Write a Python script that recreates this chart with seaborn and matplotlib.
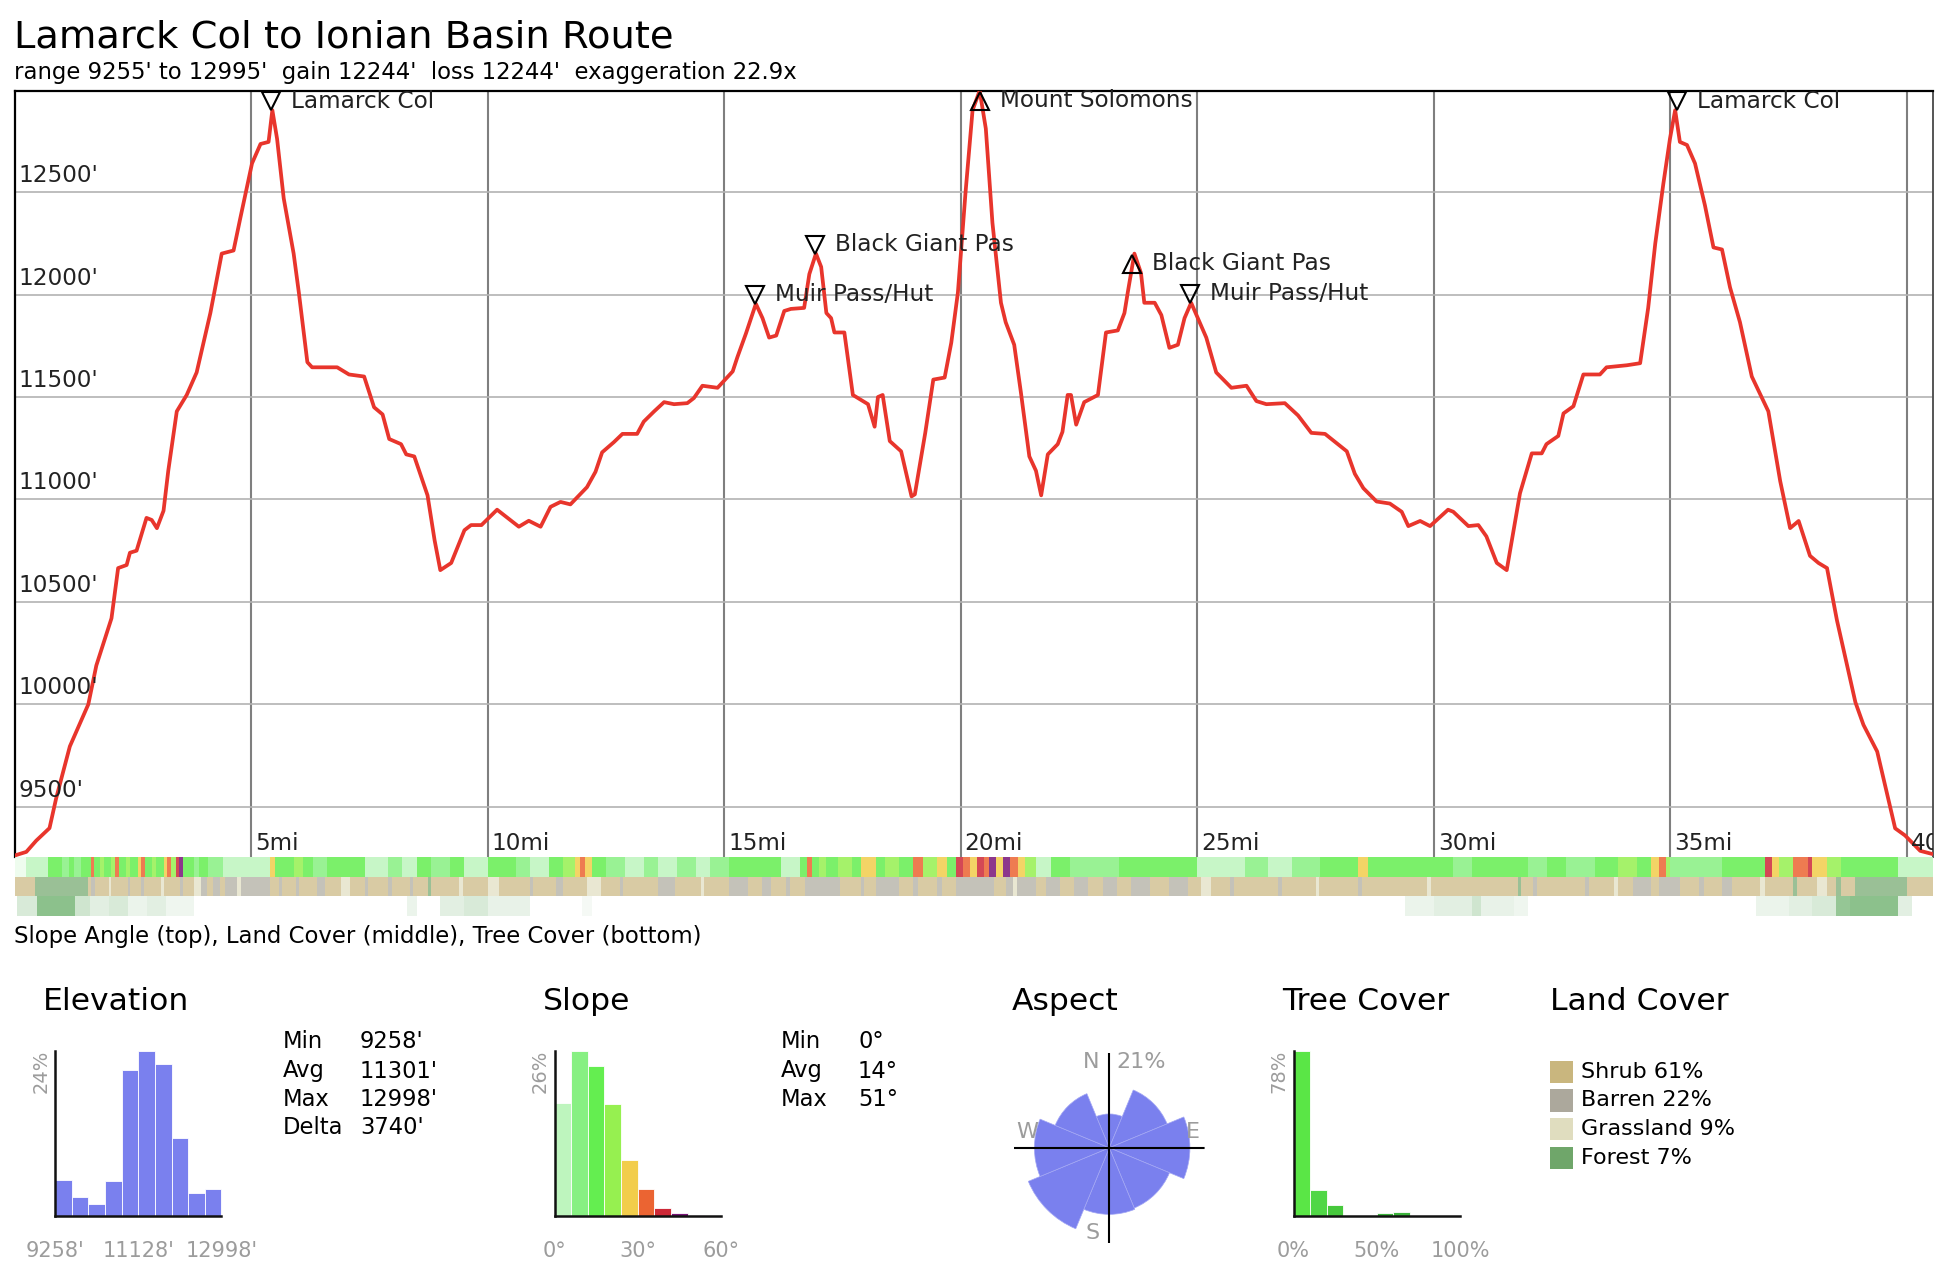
import numpy as np
import pandas as pd
import matplotlib
matplotlib.use('Agg')
import matplotlib.pyplot as plt
import matplotlib.transforms as mtrans
from matplotlib.patches import Rectangle
import seaborn as sns

# ---------------- data ----------------
title = "Lamarck Col to Ionian Basin Route"
subtitle = "range 9255' to 12995'  gain 12244'  loss 12244'  exaggeration 22.9x"

profile_mi = [0.00, 0.25, 0.46, 0.74, 0.88, 1.17, 1.56, 1.73, 2.05, 2.19, 2.37, 2.44, 2.58, 2.79, 2.90,
              3.01, 3.15, 3.25, 3.43, 3.64, 3.85, 4.14, 4.38, 4.63, 4.77, 5.02, 5.20, 5.37, 5.45, 5.55,
              5.69, 5.90, 6.01, 6.19, 6.29, 6.82, 7.07, 7.39, 7.60, 7.78, 7.92, 8.17, 8.28, 8.45, 8.73,
              8.88, 9.00, 9.23, 9.51, 9.65, 9.87, 10.20, 10.66, 10.87, 11.12, 11.33, 11.54, 11.75, 12.10,
              12.28, 12.42, 12.67, 12.85, 13.16, 13.30, 13.52, 13.73, 13.94, 14.22, 14.36, 14.54, 14.86,
              15.18, 15.28, 15.46, 15.67, 15.81, 15.95, 16.10, 16.27, 16.41, 16.69, 16.80, 16.94, 17.05,
              17.16, 17.26, 17.33, 17.54, 17.72, 18.04, 18.18, 18.25, 18.35, 18.50, 18.74, 18.96, 19.03,
              19.25, 19.42, 19.66, 19.80, 19.94, 20.10, 20.25, 20.40, 20.53, 20.67, 20.85, 20.95, 21.13,
              21.27, 21.45, 21.59, 21.70, 21.84, 22.05, 22.15, 22.26, 22.33, 22.44, 22.61, 22.90, 23.07,
              23.32, 23.46, 23.53, 23.67, 23.81, 23.88, 24.10, 24.24, 24.41, 24.59, 24.73, 24.87, 25.19,
              25.40, 25.72, 26.04, 26.25, 26.46, 26.85, 27.13, 27.41, 27.70, 28.16, 28.33, 28.51, 28.79,
              29.07, 29.32, 29.46, 29.71, 29.92, 30.30, 30.41, 30.73, 30.94, 31.11, 31.33, 31.54, 31.82,
              32.07, 32.28, 32.38, 32.63, 32.74, 32.95, 33.16, 33.51, 33.65, 34.08, 34.36, 34.53, 34.68,
              34.85, 34.99, 35.10, 35.20, 35.35, 35.52, 35.73, 35.91, 36.09, 36.26, 36.47, 36.72, 37.07,
              37.32, 37.53, 37.71, 37.95, 38.13, 38.31, 38.52, 38.91, 39.08, 39.37, 39.75, 39.96, 40.28,
              40.53]
profile_ft = [9262, 9280, 9335, 9396, 9541, 9795, 10000, 10190, 10420, 10665, 10680, 10740, 10750, 10910, 10900,
              10860, 10945, 11140, 11430, 11510, 11620, 11910, 12200, 12215, 12370, 12640, 12735, 12745, 12900, 12760,
              12470, 12200, 12010, 11670, 11645, 11645, 11610, 11600, 11450, 11415, 11295, 11270, 11220, 11210, 11020,
              10800, 10655, 10690, 10850, 10875, 10875, 10950, 10867, 10896, 10867, 10964, 10988, 10976, 11060,
              11135, 11230, 11280, 11320, 11320, 11380, 11430, 11475, 11465, 11470, 11495, 11555, 11545,
              11625, 11695, 11810, 11955, 11885, 11790, 11800, 11920, 11930, 11935, 12100, 12200, 12135,
              11910, 11885, 11815, 11815, 11510, 11465, 11355, 11500, 11510, 11285, 11235, 11015, 11025,
              11325, 11585, 11595, 11765, 12010, 12495, 12900, 12995, 12810, 12350, 11960, 11865, 11755,
              11525, 11210, 11140, 11020, 11220, 11270, 11330, 11510, 11510, 11365, 11475, 11510, 11815,
              11825, 11910, 12010, 12200, 12105, 11960, 11960, 11900, 11740, 11755, 11885, 11960, 11790,
              11620, 11545, 11555, 11480, 11465, 11470, 11410, 11325, 11320, 11235, 11125, 11055, 10990,
              10980, 10940, 10870, 10895, 10870, 10950, 10940, 10870, 10875, 10820, 10690, 10655, 11030,
              11225, 11225, 11270, 11310, 11420, 11455, 11610, 11610, 11645, 11655, 11665, 11935, 12250,
              12540, 12760, 12900, 12745, 12730, 12640, 12435, 12230, 12220, 12035, 11865, 11600, 11430,
              11090, 10860, 10895, 10725, 10690, 10665, 10410, 10010, 9900, 9770, 9395, 9360, 9285,
              9270]
route_len_mi = 40.55
range_ft = (9255, 12995)

xtick_mi = [5, 10, 15, 20, 25, 30, 35, 40]
xtick_labels = ["5mi", "10mi", "15mi", "20mi", "25mi", "30mi", "35mi", "40mi"]
ytick_ft = [9500, 10000, 10500, 11000, 11500, 12000, 12500]
ytick_labels = ["9500'", "10000'", "10500'", "11000'", "11500'", "12000'", "12500'"]

wp_names = ["Lamarck Col", "Muir Pass/Hut", "Black Giant Pas", "Mount Solomons",
            "Black Giant Pas", "Muir Pass/Hut", "Lamarck Col"]
wp_mi = [5.42, 15.65, 16.93, 20.40, 23.63, 24.84, 35.13]
wp_ft = [12900, 11955, 12200, 12995, 12200, 11960, 12900]
wp_dir = ["down", "down", "down", "up", "up", "down", "down"]

# slope band: segment start (mi) and slope angle (deg)
slope_band_mi = [0.0, 0.25, 0.7, 1.0, 1.15, 1.25, 1.4, 1.62, 1.68, 1.8, 1.9, 2.05, 2.12, 2.2, 2.35, 2.45,
                 2.6, 2.68, 2.75, 2.9, 3.0, 3.15, 3.22, 3.3, 3.42, 3.48, 3.56, 3.8, 3.9, 4.1, 4.4, 4.65,
                 5.0, 5.4, 5.5, 5.7, 5.9, 6.1, 6.3, 6.6, 6.9, 7.2, 7.4, 7.9, 8.2, 8.5, 8.8, 9.2, 9.5,
                 10.0, 10.3, 10.6, 10.9, 11.3, 11.6, 11.85, 11.95, 12.05, 12.2, 12.5, 12.9, 13.3, 13.6,
                 14.0, 14.4, 14.7, 15.1, 15.4, 15.7, 16.2, 16.6, 16.75, 16.85, 17.0, 17.15, 17.4, 17.7,
                 17.9, 18.2, 18.4, 18.7, 19.0, 19.2, 19.5, 19.7, 19.9, 20.05, 20.2, 20.35, 20.5, 20.6,
                 20.75, 20.9, 21.05, 21.2, 21.35, 21.6, 21.9, 22.3, 22.8, 23.35, 23.8, 24.2, 24.6, 25.0,
                 25.5, 26.0, 26.5, 27.0, 27.6, 28.0, 28.4, 28.6, 29.0, 29.5, 30.0, 30.4, 30.8, 31.2,
                 31.6, 32.0, 32.4, 32.8, 33.4, 33.9, 34.3, 34.6, 34.75, 34.9, 35.0, 35.5, 36.1, 36.5,
                 37.0, 37.15, 37.3, 37.6, 37.9, 38.0, 38.3, 38.6, 38.9, 39.3, 39.8, 40.2]
slope_band_deg = [2, 5, 14, 10, 16, 8, 15, 34, 15, 22, 14, 20, 33, 16, 22, 14,
                  27, 32, 14, 20, 12, 25, 30, 18, 38, 44, 14, 8, 15, 10, 5, 3,
                  5, 27, 15, 12, 19, 14, 8, 16, 12, 16, 5, 10, 4, 12, 6, 15, 4,
                  12, 16, 10, 5, 14, 18, 26, 31, 24, 15, 6, 3, 8, 4,
                  10, 4, 7, 15, 12, 16, 5, 16, 33, 16, 22, 14, 20, 12,
                  25, 15, 21, 14, 33, 20, 26, 15, 36, 30, 27, 39, 33, 44,
                  28, 45, 32, 25, 20, 5, 15, 10, 6, 14, 17, 12, 15, 5,
                  3, 7, 4, 10, 16, 13, 26, 14, 17, 12, 15, 8, 15, 12,
                  16, 7, 14, 10, 15, 18, 14, 25, 32, 22, 6, 10, 15, 17,
                  37, 27, 22, 30, 38, 24, 20, 16, 14, 15, 5, 3]

# land cover band: segment start (mi) and class
land_band_mi = [0.00, 0.44, 1.56, 1.62, 1.70, 2.00, 2.05, 2.40, 2.45, 2.68, 2.74, 3.10, 3.16, 3.50, 3.56,
                3.80, 3.95, 4.06, 4.20, 4.35, 4.45, 4.70, 4.78, 5.40, 5.60, 5.66, 5.95, 6.02, 6.40, 6.57,
                6.90, 7.10, 7.40, 7.48, 7.90, 7.98, 8.35, 8.42, 8.74, 8.80, 9.40, 9.48, 10.00, 10.25,
                10.90, 10.96, 11.45, 11.60, 12.10, 12.40, 12.80, 12.86, 13.60, 13.95, 14.50, 14.58, 15.10,
                15.50, 15.80, 16.00, 16.30, 16.40, 16.70, 17.45, 17.90, 17.96, 18.20, 18.70, 19.00, 19.10,
                19.50, 19.60, 19.90, 20.70, 20.95, 21.10, 21.18, 21.60, 21.80, 22.10, 22.40, 22.70, 23.00,
                23.30, 23.60, 24.00, 24.40, 24.80, 25.07, 25.30, 25.70, 25.78, 26.70, 26.78, 27.50, 27.58,
                28.40, 28.48, 29.85, 29.95, 31.78, 31.84, 32.10, 32.18, 33.20, 33.28, 33.80, 33.90, 34.20,
                34.60, 34.75, 35.20, 35.60, 35.70, 36.10, 36.30, 36.90, 37.00, 37.60, 37.68, 38.10, 38.30,
                38.50, 38.60, 38.90, 40.00]
land_band_cls = ["S", "F", "S", "B", "S", "G", "S", "B", "S", "B", "S", "G", "S", "B", "S",
                 "G", "B", "S", "B", "S", "B", "G", "B", "S", "B", "S", "B", "S", "B", "S",
                 "G", "S", "B", "S", "B", "S", "B", "S", "F", "S", "G", "S", "G", "S",
                 "B", "S", "B", "S", "G", "S", "B", "S", "B", "S", "G", "S", "B",
                 "S", "B", "S", "B", "S", "B", "S", "B", "S", "B", "S", "B", "S",
                 "B", "S", "B", "S", "B", "G", "B", "S", "B", "S", "B", "S", "B",
                 "S", "B", "S", "B", "S", "G", "S", "B", "S", "B", "S", "G", "S",
                 "B", "S", "G", "S", "F", "S", "B", "S", "B", "S", "G", "S", "B",
                 "S", "B", "S", "B", "S", "B", "S", "G", "S", "F", "S", "G", "S",
                 "F", "S", "F", "S"]

# tree cover band: segment start (mi) and canopy percent
tree_band_mi = [0.0, 0.05, 0.47, 1.27, 1.6, 2.0, 2.4, 2.8, 3.2, 3.8, 8.3, 8.5, 9.0, 9.5, 10.0, 10.9,
                12.0, 12.2, 29.4, 30.0, 30.8, 31.0, 31.7, 32.0, 36.8, 37.5, 38.0, 38.5, 38.8, 39.8, 40.1]
tree_band_pct = [0, 20, 60, 25, 15, 20, 10, 15, 8, 0, 10, 0, 15, 20, 12, 0,
                 5, 0, 10, 15, 25, 12, 8, 0, 10, 15, 20, 55, 60, 15, 0]

# summary histograms
elev_stats = [("Min", "9258'"), ("Avg", "11301'"), ("Max", "12998'"), ("Delta", "3740'")]
elev_min, elev_max = 9258, 12998
elev_hist_pct = [5.2, 2.8, 1.8, 5.1, 21.2, 24.0, 22.1, 11.3, 3.4, 3.9]
elev_tick_labels = ["9258'", "11128'", "12998'"]

slope_stats = [("Min", "0°"), ("Avg", "14°"), ("Max", "51°")]
slope_range = (0, 60)
slope_hist_pct = [17.8, 26.0, 23.6, 17.6, 8.8, 4.3, 1.3, 0.4, 0.2, 0.0]
slope_colors = ["#bef5be", "#87f082", "#64ee50", "#96f050", "#f2cd4b",
                "#eb6432", "#cd2837", "#781478", "#c8bee6", "#c8bee6"]
slope_tick_labels = ["0°", "30°", "60°"]

aspect_dirs = ["N", "NE", "E", "SE", "S", "SW", "W", "NW"]
aspect_deg = [0, 45, 90, 135, 180, 225, 270, 315]
aspect_pct = [3.1, 10.6, 17.6, 11.5, 12.0, 20.8, 15.2, 9.3]

tree_range = (0, 100)
tree_hist_pct = [78.0, 12.4, 5.4, 0.0, 0.0, 1.3, 2.1, 0.0, 0.0, 0.0]
tree_colors = ["#5ae646", "#50d746", "#46c83c", "#44c23c", "#42bd3c",
               "#3cb43c", "#3cb43c", "#3ab03a", "#38ac38", "#38ac38"]
tree_tick_labels = ["0%", "50%", "100%"]

land_names = ["Shrub", "Barren", "Grassland", "Forest"]
land_codes = ["S", "B", "G", "F"]
land_pct = [61, 22, 9, 7]
land_colors = ["#c9b67e", "#aca89c", "#e0ddbf", "#6fa66a"]

# ---------------- figure ----------------
W, H = 1948, 1286
sns.set_theme(style="white")
plt.rcParams["font.family"] = ["DejaVu Sans"]
fig = plt.figure(figsize=(W / 100, H / 100), dpi=100)
fig.patch.set_facecolor("white")


def rect(l, t, r, b):
    return [l / W, 1 - b / H, (r - l) / W, (b - t) / H]


def fx(x):
    return x / W


def fy(y):
    return 1 - y / H


fig.text(fx(14), fy(38), title, fontsize=27.7, ha="left", va="center", color="black")
fig.text(fx(14), fy(72), subtitle, fontsize=16.4, ha="left", va="center", color="black")

# ---- profile ----
ax = fig.add_axes(rect(14.5, 90.7, 1933, 857))
prof = pd.DataFrame({"mi": profile_mi, "ft": profile_ft})
sns.lineplot(data=prof, x="mi", y="ft", ax=ax, color="#e8352c", lw=2.7,
             estimator=None, sort=False, zorder=3)
ax.set_xlim(0, route_len_mi)
ax.set_ylim(*range_ft)
ax.set_xticks(xtick_mi)
ax.set_yticks(ytick_ft)
ax.tick_params(length=0, labelleft=False, labelbottom=False)
ax.set_xlabel("")
ax.set_ylabel("")
ax.grid(axis="x", color="#7f7f7f", lw=1.5)
ax.grid(axis="y", color="#b3b3b3", lw=1.2)
ax.set_axisbelow(True)
for side in ["top", "left"]:
    ax.spines[side].set_color("black")
    ax.spines[side].set_linewidth(1.6)
ax.spines["right"].set_color("#555555")
ax.spines["right"].set_linewidth(1.4)
ax.spines["bottom"].set_visible(False)

PROF_FS = 16.7
ylab_tr = mtrans.offset_copy(ax.get_yaxis_transform(), fig=fig, x=4, y=5, units="dots")
for v, lab in zip(ytick_ft, ytick_labels):
    ax.text(0, v, lab, transform=ylab_tr, fontsize=PROF_FS, color="#222222", ha="left", va="bottom")
xlab_tr = mtrans.offset_copy(ax.get_xaxis_transform(), fig=fig, x=4, y=2, units="dots")
for v, lab in zip(xtick_mi, xtick_labels):
    ax.text(v, 0, lab, transform=xlab_tr, fontsize=PROF_FS, color="#222222", ha="left",
            va="bottom", clip_on=True)

for name, m, e, d in zip(wp_names, wp_mi, wp_ft, wp_dir):
    dy = 9 if d == "down" else -10
    mtr = mtrans.offset_copy(ax.transData, fig=fig, x=0, y=dy, units="dots")
    ax.plot([m], [e], marker="v" if d == "down" else "^", ms=13, mfc="none", mec="black",
            mew=1.5, transform=mtr, clip_on=False, zorder=5)
    ttr = mtrans.offset_copy(ax.transData, fig=fig, x=20, y=dy, units="dots")
    ax.text(m, e, name, transform=ttr, fontsize=PROF_FS, color="#222222", ha="left",
            va="center", zorder=5)

# ---- bands ----
bax = fig.add_axes(rect(14.5, 857, 1933, 916))


def seg_widths(starts):
    edges = list(starts) + [route_len_mi]
    return np.diff(edges)


def slope_color(deg):
    if deg < 3:
        return "#ecfcec"
    return slope_colors[min(int(deg // 6), len(slope_colors) - 1)]


bax.bar(slope_band_mi, 1, width=seg_widths(slope_band_mi), bottom=2, align="edge",
        color=[slope_color(d) for d in slope_band_deg], alpha=0.85, linewidth=0)
land_map = dict(zip(land_codes, land_colors))
bax.bar(land_band_mi, 1, width=seg_widths(land_band_mi), bottom=1, align="edge",
        color=[land_map[c] for c in land_band_cls], alpha=0.7, linewidth=0)
tree_rgba = [(0.36, 0.66, 0.36, min(1.0, p / 85)) for p in tree_band_pct]
bax.bar(tree_band_mi, 1, width=seg_widths(tree_band_mi), bottom=0, align="edge",
        color=tree_rgba, linewidth=0)
bax.set_xlim(0, route_len_mi)
bax.set_ylim(0, 3)
bax.axis("off")

fig.text(fx(14), fy(937), "Slope Angle (top), Land Cover (middle), Tree Cover (bottom)",
         fontsize=16.4, ha="left", va="center", color="black")

# ---- summary panels ----
panel_title_y = 1001
for txt, x in [("Elevation", 43), ("Slope", 543), ("Aspect", 1012), ("Tree Cover", 1282),
               ("Land Cover", 1550)]:
    fig.text(fx(x), fy(panel_title_y), txt, fontsize=22.6, ha="left", va="center", color="black")

GRAY = "#9c9c9c"


def hist_panel(rect_px, lo, hi, pct, colors, ticklabels, ylab, ylab_x):
    hx = fig.add_axes(rect(*rect_px))
    n = len(pct)
    step = (hi - lo) / n
    centers = [lo + step * (i + 0.5) for i in range(n)]
    df = pd.DataFrame({"center": centers, "pct": pct})
    sns.histplot(data=df, x="center", weights="pct", bins=n, binrange=(lo, hi), ax=hx,
                 color=colors[0], alpha=1, edgecolor="white", linewidth=0.6)
    for patch, c in zip(hx.patches, colors):
        patch.set_facecolor(c)
    hx.set_xlim(lo, hi)
    hx.set_ylim(0, max(pct))
    hx.set_xticks([lo, (lo + hi) / 2, hi])
    hx.set_xticklabels(ticklabels)
    hx.set_yticks([])
    hx.tick_params(axis="x", length=0, pad=18, labelsize=15, labelcolor=GRAY)
    hx.set_xlabel("")
    hx.set_ylabel("")
    for side in ["top", "right"]:
        hx.spines[side].set_visible(False)
    for side in ["left", "bottom"]:
        hx.spines[side].set_color("#111111")
        hx.spines[side].set_linewidth(1.8)
    fig.text(fx(ylab_x), fy(1071), ylab, rotation=90, fontsize=14, color=GRAY, ha="center",
             va="center")
    return hx


hist_panel((55, 1051, 221.5, 1216), elev_min, elev_max, elev_hist_pct,
           ["#7a80ee"] * len(elev_hist_pct), elev_tick_labels,
           f"{max(elev_hist_pct):.0f}%", 41)
hist_panel((554.5, 1051, 721, 1216), slope_range[0], slope_range[1], slope_hist_pct,
           slope_colors, slope_tick_labels, f"{max(slope_hist_pct):.0f}%", 540)
hist_panel((1293.5, 1051, 1460, 1216), tree_range[0], tree_range[1], tree_hist_pct,
           tree_colors, tree_tick_labels, f"{max(tree_hist_pct):.0f}%", 1279)

row_y = [1042, 1071, 1099.5, 1128]
for (k, v), y in zip(elev_stats, row_y):
    fig.text(fx(283), fy(y), k, fontsize=16.3, ha="left", va="center", color="black")
    fig.text(fx(360), fy(y), v, fontsize=16.3, ha="left", va="center", color="black")
for (k, v), y in zip(slope_stats, row_y):
    fig.text(fx(781), fy(y), k, fontsize=16.3, ha="left", va="center", color="black")
    fig.text(fx(858), fy(y), v, fontsize=16.3, ha="left", va="center", color="black")

# ---- aspect rose ----
pax = fig.add_axes(rect(1014, 1052.5, 1204.6, 1243.1), projection="polar")
pax.set_theta_zero_location("N")
pax.set_theta_direction(-1)
radius = np.sqrt(aspect_pct)
rmax = np.sqrt(max(aspect_pct)) * 286 / 263
pax.bar(np.deg2rad(aspect_deg), radius, width=np.deg2rad(45), color="#7a80ee",
        edgecolor="#a3a7f4", linewidth=0.5, align="center")
for t in [0, np.pi / 2, np.pi, 3 * np.pi / 2]:
    pax.plot([t, t], [0, rmax], color="black", lw=1.5, solid_capstyle="butt")
pax.set_ylim(0, rmax)
pax.axis("off")

for lab, x, y in [("N", 1091, 1062), ("W", 1027, 1132), ("E", 1193, 1132), ("S", 1093, 1233)]:
    fig.text(fx(x), fy(y), lab, fontsize=16, color=GRAY, ha="center", va="center")
fig.text(fx(1116), fy(1062), f"{max(aspect_pct):.0f}%", fontsize=16, color=GRAY, ha="left",
         va="center")

# ---- land cover legend ----
sw_y = [1072, 1100.5, 1129, 1158]
for name, p, c, y in zip(land_names, land_pct, land_colors, sw_y):
    fig.add_artist(Rectangle((fx(1550), fy(y + 11.3)), 22.7 / W, 22.6 / H,
                             transform=fig.transFigure, facecolor=c, edgecolor="none"))
    fig.text(fx(1581), fy(y), f"{name} {p}%", fontsize=16, ha="left", va="center",
             color="black")

fig.savefig("out.png", dpi=100)
